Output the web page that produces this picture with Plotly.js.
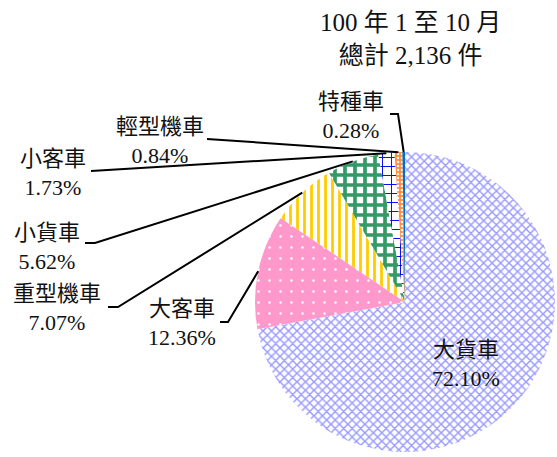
<!DOCTYPE html>
<html><head><meta charset="utf-8">
<script src="https://cdn.plot.ly/plotly-3.0.1.min.js"></script>
<style>html,body{margin:0;padding:0;background:#fff}#chart{width:557px;height:457px}</style>
</head><body><div id="chart"></div>
<script>
// ---- data ----
const categories = ['大貨車','大客車','重型機車','小貨車','小客車','輕型機車','特種車'];
const percents = [72.10, 12.36, 7.07, 5.62, 1.73, 0.84, 0.28];
const titleLines = ['100 年 1 至 10 月', '總計 2,136 件'];

// ---- styles ----
const bgColors = ['#FFFFFF','#FF99CC','#FFFFFF','#FFFFFF','#FFFFFF','#FF8C40','#0070C0'];
const fgColors = ['#9999FF','#FFFFFF','#FFCC00','#339966','#0000FF','#FFFFFF','#0070C0'];
const patShapes = ['x','.','|','+','+','.',''];
const patSizes = [6, 11, 7, 10, 9, 4, 6];
const patSolid = [0.42, 0.04, 0.4, 0.6, 0.2, 0.3, 0.3];

const W = 557, H = 457;
const CX = 405, CY = 302, R = 150;
const FONT = '"Liberation Serif", "Times New Roman", "Noto Sans CJK TC", serif';

// label layout (pixel): text block centre, and leader line start points
const labelPos = [[466,364],[182,323],[57,308],[47,247],[53,173],[160,141],[351,116]];
const leaderStart = [
  null,
  [[220,322],[228,322]],
  [[108,307],[118,307]],
  [[85,243],[95,243]],
  [[91,171]],
  [[207,139]],
  [[390,114],[398,114]]
];

const px = x => x / W;
const py = y => 1 - y / H;

// leader line end points from slice mid angles (clockwise from 12 o'clock)
const total = percents.reduce((a,b)=>a+b,0);
let cum = 0;
const shapes = [];
const annotations = [];
percents.forEach((v, i) => {
  const mid = (cum + v/2) / total * 2 * Math.PI;
  cum += v;
  const ex = CX + R * Math.sin(mid);
  const ey = CY - R * Math.cos(mid);
  annotations.push({
    xref:'paper', yref:'paper', x: px(labelPos[i][0]), y: py(labelPos[i][1]),
    xanchor:'center', yanchor:'middle', showarrow:false,
    text: categories[i] + '<br>' + v.toFixed(2) + '%',
    font:{family:FONT, size:22, color:'#111'}
  });
  if (leaderStart[i]) {
    const pts = leaderStart[i].concat([[ex, ey]]);
    const path = pts.map((p, k) => (k ? 'L ' : 'M ') + px(p[0]) + ' ' + py(p[1])).join(' ');
    shapes.push({type:'path', xref:'paper', yref:'paper', path,
      line:{color:'#000', width:2}});
  }
});

// chart title as an annotation block
annotations.push({
  xref:'paper', yref:'paper', x: px(410), y: py(39),
  xanchor:'center', yanchor:'middle', showarrow:false,
  text: titleLines.join('<br>'),
  font:{family:FONT, size:25, color:'#111'}
});

const trace = {
  type:'pie',
  labels: categories,
  values: percents,
  sort:false,
  direction:'clockwise',
  rotation:0,
  textinfo:'none',
  hoverinfo:'label+percent',
  domain:{x:[px(CX-R), px(CX+R)], y:[py(CY+R), py(CY-R)]},
  marker:{
    colors: bgColors,
    line:{width:0},
    pattern:{shape:patShapes, fgcolor:fgColors, bgcolor:bgColors, size:patSizes, solidity:patSolid, fillmode:'replace'}
  },
  showlegend:false
};

const layout = {
  width:W, height:H,
  margin:{l:0,r:0,t:0,b:0},
  paper_bgcolor:'#fff',
  showlegend:false,
  shapes, annotations
};

Plotly.newPlot('chart', [trace], layout, {displayModeBar:false, staticPlot:true});
</script></body></html>
